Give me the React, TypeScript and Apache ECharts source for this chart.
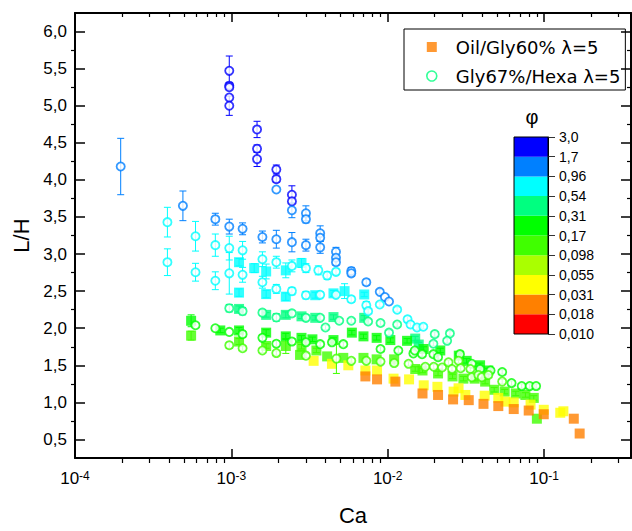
import React, { useEffect, useRef } from 'react';
import * as echarts from 'echarts';

const FONT = "'Liberation Sans', Arial, sans-serif";
const LEGEND_FONT = "'DejaVu Sans', 'Liberation Sans', sans-serif";

// colour scale for phi
const phiBounds = [0.010, 0.018, 0.031, 0.055, 0.098, 0.17, 0.31, 0.54, 0.96, 1.7, 3.0];
const phiLabels = ['0,010', '0,018', '0,031', '0,055', '0,098', '0,17', '0,31', '0,54', '0,96', '1,7', '3,0'];
const phiColors = ['#FF0000', '#FF8000', '#FFFF00', '#AAFF00', '#40FF00', '#00FF00', '#00FF80', '#00FFFF', '#0080FF', '#0000FF'];

// axes
const xMajorTicks = [-4, -3, -2, -1];
const yTickValues = [0.5, 1, 1.5, 2, 2.5, 3, 3.5, 4, 4.5, 5, 5.5, 6];
const X_MIN = -4;
const X_MAX = Math.log10(0.36);
const Y_MIN = 0.25;
const Y_MAX = 6.25;

// Oil/Gly60% lambda=5  : [Ca, L/H, error]
const oilPhi072 = [[1.12e-3, 2.89, 0.05], [1.12e-3, 2.48, 0.05], [1.4e-3, 2.81, 0.06], [1.67e-3, 2.765, 0.1], [1.67e-3, 2.46, 0.05], [2.23e-3, 2.78, 0.1], [2.23e-3, 2.425, 0.05], [2.81e-3, 2.88, 0.06], [3.44e-3, 2.445, 0.04], [4.5e-3, 2.47, 0.04], [5.3e-3, 2.5, 0.1], [7.08e-3, 2.455, 0.03]];
const oilPhi041 = [[1.12e-3, 2.26, 0.04], [1.67e-3, 2.18, 0.03], [2.23e-3, 2.18, 0.04], [2.81e-3, 2.16, 0.03], [3.44e-3, 2.14, 0.03], [4.5e-3, 2.15, 0.03], [7.08e-3, 2.14, 0.03], [1.58e-2, 1.78, 0.03], [1.5e-2, 1.86, 0.03]];
const oilPhi023 = [[5.53e-4, 2.1, 0.08], [8.5e-4, 1.97, 0.03], [1.12e-3, 1.97, 0.04], [1.67e-3, 1.94, 0.04], [2.23e-3, 1.89, 0.04], [2.81e-3, 1.87, 0.03], [3.3e-3, 1.85, 0.03], [4.5e-3, 1.84, 0.03], [5.9e-3, 1.94, 0.03], [7.0e-3, 1.89, 0.03], [8.5e-3, 1.87, 0.03], [1.04e-2, 1.84, 0.03], [1.33e-2, 1.83, 0.03], [1.7e-2, 1.72, 0.03], [2.17e-2, 1.7, 0.03], [2.85e-2, 1.63, 0.03], [3.2e-2, 1.56, 0.03], [3.9e-2, 1.5, 0.03], [4.4e-2, 1.43, 0.03]];
const oilPhi013 = [[5.53e-4, 1.9, 0.06], [1.12e-3, 1.82, 0.04], [1.67e-3, 1.76, 0.03], [2.23e-3, 1.76, 0.1], [2.81e-3, 1.75, 0.03], [3.5e-3, 1.7, 0.03], [2.75e-3, 1.64, 0], [4.1e-3, 1.62, 0], [5.2e-3, 1.6, 0], [7.0e-3, 1.6, 0], [8.5e-3, 1.58, 0], [1.1e-2, 1.58, 0], [1.5e-2, 1.45, 0.03], [1.67e-2, 1.43, 0.03], [2.1e-2, 1.39, 0.03], [2.6e-2, 1.35, 0.03], [3.05e-2, 1.32, 0.03], [3.6e-2, 1.32, 0.03], [4.2e-2, 1.28, 0.03], [4.8e-2, 1.17, 0.03], [5.6e-2, 1.145, 0.03], [6.6e-2, 1.12, 0.03], [7.6e-2, 1.1, 0.03], [8.6e-2, 1.06, 0.03], [9.0e-2, 0.78, 0]];
const oilPhi0042 = [[3.36e-3, 1.56, 0], [4.4e-3, 1.52, 0], [5.6e-3, 1.5, 0], [7.2e-3, 1.43, 0], [8.55e-3, 1.43, 0], [1.09e-2, 1.32, 0], [1.37e-2, 1.31, 0], [1.7e-2, 1.23, 0], [2.08e-2, 1.21, 0], [2.64e-2, 1.145, 0], [2.84e-2, 1.19, 0], [3.14e-2, 1.1, 0], [4.17e-2, 1.09, 0], [5.1e-2, 1.06, 0], [5.66e-2, 1.01, 0], [6.4e-2, 1.0, 0], [8.2e-2, 0.97, 0], [9.96e-2, 0.9, 0], [1.27e-1, 0.86, 0], [1.33e-1, 0.88, 0]];
const oilPhi0024 = [[7.2e-3, 1.35, 0], [8.55e-3, 1.31, 0], [1.12e-2, 1.28, 0], [1.67e-2, 1.12, 0], [2.1e-2, 1.1, 0], [2.62e-2, 1.04, 0], [3.3e-2, 1.03, 0], [4.1e-2, 0.98, 0], [5.1e-2, 0.95, 0], [6.4e-2, 0.91, 0], [7.98e-2, 0.89, 0], [9.96e-2, 0.84, 0], [1.55e-1, 0.78, 0], [1.69e-1, 0.58, 0]];

// Gly67%/Hexa lambda=5 : [Ca, L/H, error]
const hexaPhi24 = [[9.7e-4, 5.47, 0.2], [9.7e-4, 5.27, 0.04], [9.7e-4, 5.25, 0], [9.7e-4, 5.11, 0], [9.7e-4, 5.0, 0.13], [1.46e-3, 4.68, 0.11], [1.46e-3, 4.42, 0.05], [1.46e-3, 4.28, 0.1], [1.94e-3, 4.14, 0.06], [1.94e-3, 4.01, 0.04], [2.44e-3, 3.8, 0.12], [2.44e-3, 3.71, 0]];
const hexaPhi13 = [[1.96e-4, 4.18, 0.38], [4.9e-4, 3.65, 0.2], [7.9e-4, 3.47, 0.08], [9.7e-4, 3.37, 0.1], [1.18e-3, 3.34, 0.08], [1.58e-3, 3.23, 0.08], [1.94e-3, 3.87, 0], [1.94e-3, 3.2, 0.12], [2.44e-3, 3.59, 0.1], [2.44e-3, 3.16, 0.13], [3.0e-3, 3.55, 0.1], [3.0e-3, 3.47, 0.05], [3.0e-3, 3.12, 0.08], [3.7e-3, 3.28, 0.1], [3.7e-3, 3.22, 0.05], [3.7e-3, 3.09, 0.08], [4.67e-3, 3.03, 0.06], [4.67e-3, 2.95, 0], [4.67e-3, 2.89, 0.04], [5.85e-3, 2.77, 0.05], [5.85e-3, 2.74, 0.04], [7.3e-3, 2.62, 0.04], [8.9e-3, 2.49, 0.03], [9.6e-3, 2.42, 0], [1.02e-2, 2.36, 0]];
const hexaPhi072 = [[3.9e-4, 3.43, 0.2], [3.9e-4, 2.89, 0.18], [5.9e-4, 3.24, 0.2], [5.9e-4, 2.755, 0.12], [7.9e-4, 3.12, 0.15], [7.9e-4, 2.64, 0.12], [9.7e-4, 3.08, 0.16], [9.7e-4, 2.74, 0.28], [1.18e-3, 3.05, 0.12], [1.18e-3, 2.72, 0.1], [1.58e-3, 2.93, 0.1], [1.58e-3, 2.62, 0.08], [1.94e-3, 2.89, 0.08], [1.94e-3, 2.53, 0.06], [2.44e-3, 2.84, 0.08], [2.44e-3, 2.5, 0.05], [3.0e-3, 2.81, 0.06], [3.0e-3, 2.445, 0.05], [3.6e-3, 2.78, 0.06], [3.7e-3, 2.45, 0.04], [4.1e-3, 2.71, 0.05], [4.67e-3, 2.76, 0.04], [4.67e-3, 2.45, 0], [5.85e-3, 2.39, 0.04], [7.3e-3, 2.31, 0.05], [7.5e-3, 2.23, 0.03], [8.9e-3, 2.32, 0.03], [1.15e-2, 2.25, 0.03], [1.34e-2, 2.12, 0.04], [1.4e-2, 2.05, 0.04], [1.54e-2, 2.01, 0.03], [1.69e-2, 2.02, 0.03]];
const hexaPhi041 = [[9.7e-4, 2.27, 0.05], [1.18e-3, 2.23, 0.05], [1.58e-3, 2.21, 0.04], [1.94e-3, 2.145, 0.05], [2.44e-3, 2.2, 0.04], [3.0e-3, 2.14, 0.04], [3.7e-3, 2.14, 0.03], [4.0e-3, 2.01, 0.03], [4.9e-3, 2.1, 0.03], [5.85e-3, 2.1, 0.03], [7.5e-3, 2.09, 0.03], [9.0e-3, 2.07, 0.03], [1.02e-2, 1.94, 0.03], [1.15e-2, 2.05, 0.03], [2.0e-2, 1.92, 0.03], [2.5e-2, 1.93, 0.03], [1.96e-2, 1.79, 0.03], [2.4e-2, 1.83, 0.03]];
const hexaPhi023 = [[5.9e-4, 2.04, 0], [7.9e-4, 2.0, 0], [9.7e-4, 1.95, 0], [1.18e-3, 1.92, 0.04], [1.58e-3, 1.87, 0.04], [1.94e-3, 1.79, 0.04], [2.44e-3, 1.82, 0.04], [3.0e-3, 1.81, 0.03], [3.7e-3, 1.785, 0.03], [4.4e-3, 1.81, 0.03], [5.2e-3, 1.785, 0.03], [9.0e-3, 1.72, 0.03], [1.17e-2, 1.7, 0.03], [1.46e-2, 1.66, 0.03], [1.49e-2, 1.7, 0.03], [1.66e-2, 1.65, 0.03], [1.96e-2, 1.65, 0.03], [2.1e-2, 1.61, 0.03], [2.9e-2, 1.65, 0.03], [3.45e-2, 1.52, 0.03], [3.9e-2, 1.45, 0.03], [4.55e-2, 1.43, 0.03], [5.4e-2, 1.41, 0.03], [6.2e-2, 1.26, 0.03], [7.2e-2, 1.22, 0.03], [8.1e-2, 1.22, 0.03], [8.9e-2, 1.22, 0.03]];
const hexaPhi013 = [[9.7e-4, 1.77, 0.04], [1.18e-3, 1.73, 0.03], [1.58e-3, 1.7, 0.03], [1.94e-3, 1.665, 0.03], [3.0e-3, 1.63, 0.03], [4.7e-3, 1.59, 0.2], [5.85e-3, 1.56, 0.03], [7.3e-3, 1.56, 0.03], [9.0e-3, 1.55, 0.03], [1.1e-2, 1.53, 0.03], [1.36e-2, 1.52, 0.03], [1.74e-2, 1.48, 0.03], [1.97e-2, 1.48, 0.03], [2.23e-2, 1.47, 0.03], [2.45e-2, 1.54, 0.03], [2.58e-2, 1.45, 0.03], [2.84e-2, 1.56, 0.03], [2.93e-2, 1.46, 0.03], [3.38e-2, 1.45, 0.03], [3.45e-2, 1.34, 0.03], [3.8e-2, 1.37, 0.03], [4.0e-2, 1.34, 0.03], [4.4e-2, 1.37, 0.03], [5.4e-2, 1.28, 0.03]];

const oilGroups = [
  { phi: 0.72, pts: oilPhi072 }, { phi: 0.41, pts: oilPhi041 }, { phi: 0.23, pts: oilPhi023 },
  { phi: 0.13, pts: oilPhi013 }, { phi: 0.042, pts: oilPhi0042 }, { phi: 0.024, pts: oilPhi0024 },
];
const hexaGroups = [
  { phi: 2.4, pts: hexaPhi24 }, { phi: 1.3, pts: hexaPhi13 }, { phi: 0.72, pts: hexaPhi072 },
  { phi: 0.41, pts: hexaPhi041 }, { phi: 0.23, pts: hexaPhi023 }, { phi: 0.13, pts: hexaPhi013 },
];

const OIL_NAME = 'Oil/Gly60% λ=5';
const HEXA_NAME = 'Gly67%/Hexa λ=5';

function colorOf(phi: number): string {
  for (let i = 0; i < phiColors.length; i++) {
    if (phi >= phiBounds[i] && phi < phiBounds[i + 1]) return phiColors[i];
  }
  return phiColors[phiColors.length - 1];
}

function buildMinorX(): number[] {
  const out: number[] = [];
  for (const n of xMajorTicks) {
    for (let k = 2; k <= 9; k++) {
      const v = n + Math.log10(k);
      if (v < X_MAX) out.push(v);
    }
  }
  return out;
}
function buildMinorY(): number[] {
  return yTickValues.slice(0, -1).map((v) => v + 0.25);
}

function errData(groups: { phi: number; pts: number[][] }[]) {
  return groups.flatMap((g) => g.pts.map(([ca, lh, e]) => [Math.log10(ca), lh, e, g.phi]));
}

function errSeries(groups: { phi: number; pts: number[][] }[], z: number) {
  return {
    type: 'custom',
    z,
    silent: true,
    xAxisIndex: 0,
    yAxisIndex: 0,
    encode: { x: 0, y: 1 },
    data: errData(groups),
    renderItem: (params: any, api: any) => {
      const x = api.value(0);
      const y = api.value(1);
      const e = api.value(2);
      const phi = api.value(3);
      if (!e) return null;
      const p1 = api.coord([x, y + e]);
      const p2 = api.coord([x, y - e]);
      const c = colorOf(phi);
      const cap = 3.5;
      const st = { stroke: c, lineWidth: 1 };
      return {
        type: 'group',
        children: [
          { type: 'line', shape: { x1: p1[0], y1: p1[1], x2: p2[0], y2: p2[1] }, style: st },
          { type: 'line', shape: { x1: p1[0] - cap, y1: p1[1], x2: p1[0] + cap, y2: p1[1] }, style: st },
          { type: 'line', shape: { x1: p2[0] - cap, y1: p2[1], x2: p2[0] + cap, y2: p2[1] }, style: st },
        ],
      };
    },
  };
}

export default function App() {
  const ref = useRef<HTMLDivElement>(null);
  useEffect(() => {
    document.body.style.margin = '0';
    if (!ref.current) return;
    const chart = echarts.init(ref.current, undefined, { renderer: 'svg' });
    const xMinor = buildMinorX();
    const yMinor = buildMinorY();
    const axisLine = { color: '#000', width: 2 };
    const tickLine = { color: '#000', width: 1.5 };
    const minorLine = { color: '#000', width: 1.2 };
    const hiddenLabel = { show: false };
    const noSplit = { show: false };

    const oilData = oilGroups.flatMap((g) =>
      g.pts.map(([ca, lh]) => ({ value: [Math.log10(ca), lh], itemStyle: { color: colorOf(g.phi) } }))
    );
    const hexaData = hexaGroups.flatMap((g) =>
      g.pts.map(([ca, lh]) => ({
        value: [Math.log10(ca), lh],
        itemStyle: { color: '#fff', borderColor: colorOf(g.phi), borderWidth: 1.8 },
      }))
    );

    const colorBarSeries = phiColors.map((c, i) => ({
      type: 'bar',
      name: 'cb' + i,
      xAxisIndex: 4,
      yAxisIndex: 4,
      stack: 'cb',
      data: [1],
      barWidth: '100%',
      silent: true,
      itemStyle: { color: c },
    }));

    const option: any = {
      animation: false,
      textStyle: { fontFamily: FONT },
      grid: [
        { left: 75, top: 13, right: 1, bottom: 66, show: false },
        { left: 514, top: 137, width: 34, height: 197, show: true, borderColor: '#000', borderWidth: 1, backgroundColor: 'transparent', z: 6 },
      ],
      legend: {
        left: 404,
        top: 29,
        orient: 'vertical',
        itemWidth: 38,
        itemHeight: 10,
        itemGap: 7,
        padding: [7, 5, 3, 22],
        borderColor: '#000',
        borderWidth: 1,
        selectedMode: false,
        symbolKeepAspect: true,
        textStyle: { fontSize: 18, color: '#000', fontFamily: LEGEND_FONT, lineHeight: 22 },
        data: [
          { name: OIL_NAME, icon: 'path://M0 0H10V10H0Z', itemStyle: { color: '#FF8000' } },
          { name: HEXA_NAME, icon: 'circle', itemStyle: { color: '#fff', borderColor: '#00FF80', borderWidth: 1.6 } },
        ],
      },
      xAxis: [
        {
          type: 'value', gridIndex: 0, position: 'bottom', min: X_MIN, max: X_MAX,
          axisLine: { show: true, onZero: false, lineStyle: axisLine },
          axisTick: { show: true, customValues: xMajorTicks, inside: true, length: 9, lineStyle: tickLine },
          axisLabel: {
            customValues: xMajorTicks,
            margin: 12,
            formatter: (v: number) => `{b|10}{s|${Math.round(v)}}`,
            rich: {
              b: { fontSize: 17, color: '#000', fontFamily: FONT },
              s: { fontSize: 12, color: '#000', fontFamily: FONT, verticalAlign: 'top' },
            },
          },
          splitLine: noSplit,
          name: 'Ca', nameLocation: 'middle', nameGap: 46,
          nameTextStyle: { fontSize: 22, color: '#000', fontFamily: FONT },
        },
        {
          type: 'value', gridIndex: 0, position: 'bottom', min: X_MIN, max: X_MAX,
          axisLine: { show: false, onZero: false },
          axisTick: { show: true, customValues: xMinor, inside: false, length: 5, lineStyle: minorLine },
          axisLabel: hiddenLabel, splitLine: noSplit,
        },
        {
          type: 'value', gridIndex: 0, position: 'top', min: X_MIN, max: X_MAX,
          axisLine: { show: true, onZero: false, lineStyle: axisLine },
          axisTick: { show: true, customValues: xMajorTicks, inside: true, length: 9, lineStyle: tickLine },
          axisLabel: hiddenLabel, splitLine: noSplit,
        },
        {
          type: 'value', gridIndex: 0, position: 'top', min: X_MIN, max: X_MAX,
          axisLine: { show: false, onZero: false },
          axisTick: { show: true, customValues: xMinor, inside: true, length: 4, lineStyle: minorLine },
          axisLabel: hiddenLabel, splitLine: noSplit,
        },
        { type: 'category', gridIndex: 1, data: ['c'], show: false },
      ],
      yAxis: [
        {
          type: 'value', gridIndex: 0, position: 'left', min: Y_MIN, max: Y_MAX,
          axisLine: { show: true, onZero: false, lineStyle: axisLine },
          axisTick: { show: true, customValues: yTickValues, inside: true, length: 10, lineStyle: tickLine },
          axisLabel: {
            customValues: yTickValues, margin: 8, fontSize: 17, color: '#000', fontFamily: FONT,
            formatter: (v: number) => v.toFixed(1).replace('.', ','),
          },
          splitLine: noSplit,
          name: 'L/H', nameLocation: 'middle', nameGap: 43, nameRotate: 90,
          nameTextStyle: { fontSize: 22, color: '#000', fontFamily: FONT },
        },
        {
          type: 'value', gridIndex: 0, position: 'left', min: Y_MIN, max: Y_MAX,
          axisLine: { show: false, onZero: false },
          axisTick: { show: true, customValues: yMinor, inside: false, length: 4, lineStyle: minorLine },
          axisLabel: hiddenLabel, splitLine: noSplit,
        },
        {
          type: 'value', gridIndex: 0, position: 'right', min: Y_MIN, max: Y_MAX,
          axisLine: { show: true, onZero: false, lineStyle: axisLine },
          axisTick: { show: true, customValues: yTickValues, inside: true, length: 10, lineStyle: tickLine },
          axisLabel: hiddenLabel, splitLine: noSplit,
        },
        {
          type: 'value', gridIndex: 0, position: 'right', min: Y_MIN, max: Y_MAX,
          axisLine: { show: false, onZero: false },
          axisTick: { show: true, customValues: yMinor, inside: true, length: 4, lineStyle: minorLine },
          axisLabel: hiddenLabel, splitLine: noSplit,
        },
        {
          type: 'value', gridIndex: 1, position: 'right', min: 0, max: 10, interval: 1,
          axisLine: { show: true, onZero: false, lineStyle: { color: '#000', width: 1 } },
          axisTick: { show: true, inside: false, length: 7, lineStyle: { color: '#333', width: 1 } },
          axisLabel: {
            margin: 11, fontSize: 14, color: '#000', fontFamily: FONT,
            formatter: (v: number) => phiLabels[Math.round(v)],
          },
          splitLine: noSplit,
        },
      ],
      graphic: [
        {
          type: 'text', x: 532, y: 117, z: 10,
          style: { text: 'φ', fontSize: 20, fill: '#000', fontFamily: FONT, align: 'center', verticalAlign: 'middle' },
        },
      ],
      series: [
        errSeries(oilGroups, 2),
        {
          type: 'scatter', name: OIL_NAME, z: 3, xAxisIndex: 0, yAxisIndex: 0,
          symbol: 'rect', symbolSize: 10, data: oilData, itemStyle: { color: '#FF8000' },
        },
        errSeries(hexaGroups, 4),
        {
          type: 'scatter', name: HEXA_NAME, z: 5, xAxisIndex: 0, yAxisIndex: 0,
          symbol: 'circle', symbolSize: 8.2, data: hexaData,
          itemStyle: { color: '#fff', borderColor: '#00FF80', borderWidth: 1.8 },
        },
        ...colorBarSeries,
      ],
    };
    chart.setOption(option);
    return () => chart.dispose();
  }, []);
  return <div ref={ref} style={{ width: 632, height: 531 }} />;
}
